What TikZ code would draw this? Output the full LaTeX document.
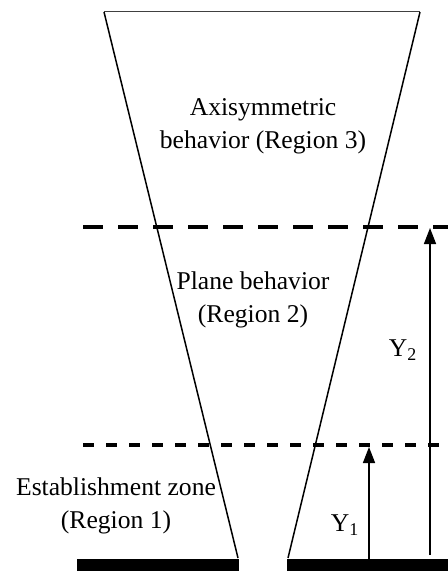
\documentclass[tikz,border=0pt]{standalone}
\usepackage{fontspec}
\setmainfont{Liberation Serif}
\usetikzlibrary{arrows.meta,positioning,calc}
\tikzstyle{label} = [align=center, font=\fontsize{12.8}{16.5}\selectfont, inner sep=0pt]
\tikzstyle{border} = [dashed, line width=2pt]
\tikzstyle{height} = [draw, line width=0.75pt, -{Triangle[length=8pt,width=6pt]}]

\begin{document}
\begin{tikzpicture}[x=0.5pt, y=-0.5pt]
    \useasboundingbox (0,0) rectangle (448,571);
    % jet outline
    \coordinate (tl) at (104,12);
    \coordinate (tr) at (420,12);
    \coordinate (bl) at (238,558);
    \coordinate (br) at (288,558);
    \draw [line width=0.5pt, black!75] (tl) -- (tr);
    \draw [line width=0.75pt] (tl) -- (bl);
    \draw [line width=0.75pt] (tr) -- (br);
    % nozzle plates
    \fill (77,559) rectangle (239,571);
    \fill (287,559) rectangle (448,571);
    % region borders
    \draw [border, dash pattern=on 10pt off 7.5pt] (83,227) -- (448,227);
    \draw [border, dash pattern=on 5.5pt off 6pt] (83,445) -- (448,445);
    % heights
    \coordinate (y1b) at (369,559);
    \coordinate (y1t) at (369,447);
    \coordinate (y2b) at (430,555);
    \coordinate (y2t) at (430,228);
    \path [height] (y1b) -- (y1t);
    \path [height] (y2b) -- (y2t);
    \node [label] (y1) at (345,525) {Y\textsubscript{1}};
    \node [label] (y2) at (403,350) {Y\textsubscript{2}};
    % region labels
    \node [label] (reg3) at (263,126) {Axisymmetric\\behavior (Region 3)};
    \node [label] (reg2) at (253,300) {Plane behavior\\(Region 2)};
    \node [label] (reg1) at (116,506) {Establishment zone\\(Region 1)};
\end{tikzpicture}
\end{document}
